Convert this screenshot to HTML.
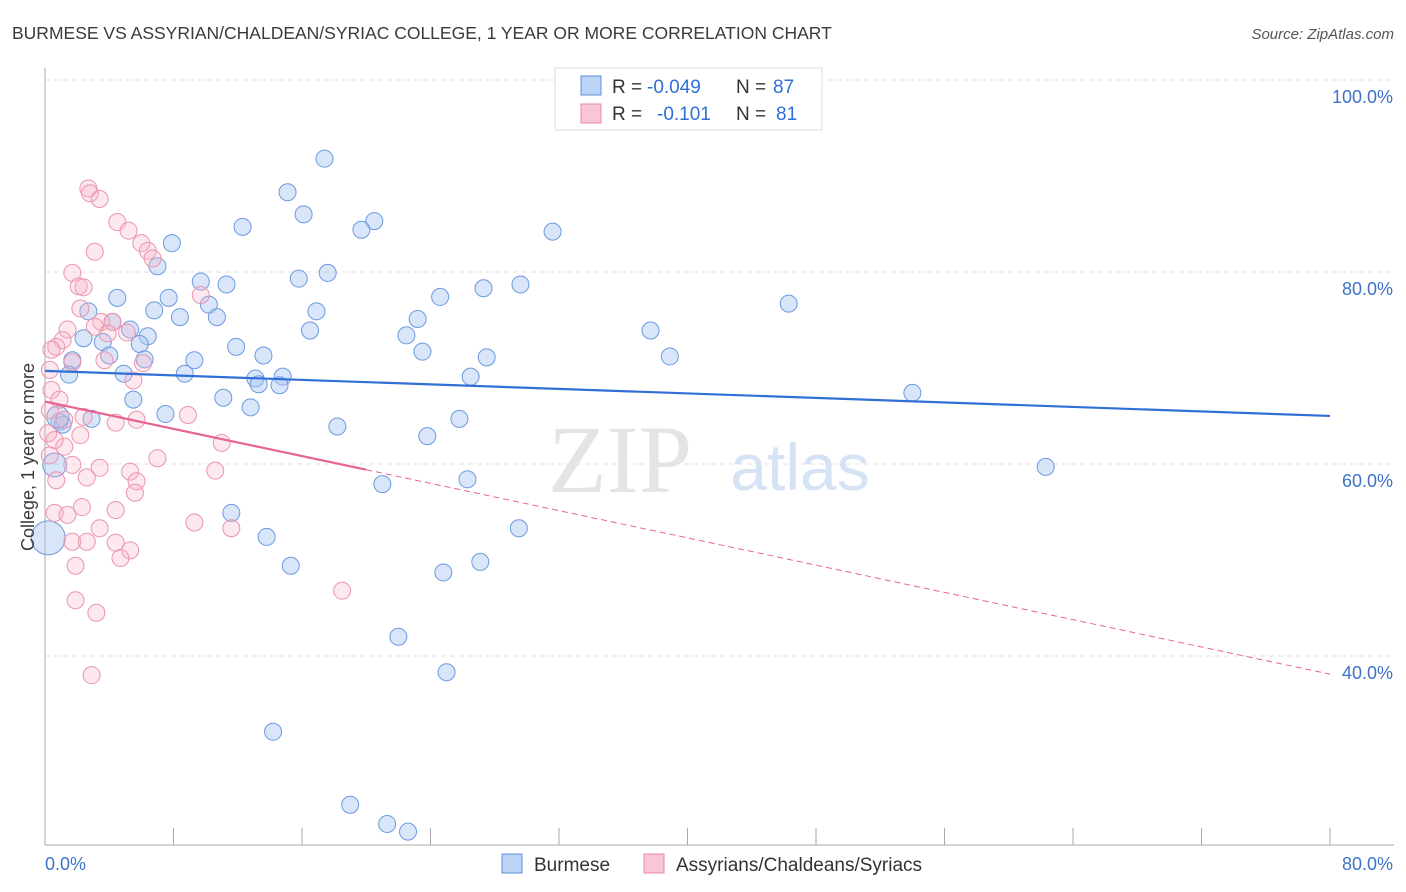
<!DOCTYPE html>
<html><head><meta charset="utf-8"><style>
body{margin:0;background:#fff;font-family:"Liberation Sans",sans-serif}
svg{display:block}
</style></head><body>
<svg id="chart" width="1406" height="892" xmlns="http://www.w3.org/2000/svg">
<text x="12" y="39" font-size="17.5" fill="#3a3a3a">BURMESE VS ASSYRIAN/CHALDEAN/SYRIAC COLLEGE, 1 YEAR OR MORE CORRELATION CHART</text>
<text x="1394" y="39" font-size="15" fill="#555" font-style="italic" text-anchor="end">Source: ZipAtlas.com</text>
<text x="620" y="492" font-size="96" fill="#e4e4e4" font-family="Liberation Serif" text-anchor="middle">ZIP</text>
<text x="800" y="490" font-size="66" fill="#d5e3f5" text-anchor="middle">atlas</text>
<g id="grid"></g>
<g id="axes"></g>
<g id="pts"></g>
<g id="trend"></g>
<text transform="translate(34,457) rotate(-90)" font-size="18" fill="#3a3a3a" text-anchor="middle">College, 1 year or more</text>
<g>
<rect x="555" y="68" width="267" height="62" fill="#fff" stroke="#ddd"/>
<rect x="581" y="76" width="20" height="19" fill="#bcd4f5" stroke="#5b8fdc"/>
<rect x="581" y="104" width="20" height="19" fill="#f8c6d4" stroke="#e88aa5"/>
<text x="612" y="93" font-size="19" fill="#333">R =</text>
<text x="647" y="93" font-size="19" fill="#2f6fd6">-0.049</text>
<text x="736" y="93" font-size="19" fill="#333">N =</text>
<text x="773" y="93" font-size="19" fill="#2f6fd6">87</text>
<text x="612" y="120" font-size="19" fill="#333">R =</text>
<text x="657" y="120" font-size="19" fill="#2f6fd6">-0.101</text>
<text x="736" y="120" font-size="19" fill="#333">N =</text>
<text x="776" y="120" font-size="19" fill="#2f6fd6">81</text>
</g>
<g>
<rect x="502" y="854" width="20" height="19" fill="#bcd4f5" stroke="#5b8fdc"/>
<text x="534" y="871" font-size="19" fill="#333">Burmese</text>
<rect x="644" y="854" width="20" height="19" fill="#f8c6d4" stroke="#e88aa5"/>
<text x="676" y="871" font-size="19" fill="#333">Assyrians/Chaldeans/Syriacs</text>
</g>
</svg>
<script>
const blueX=[32.3,17.4,15.1,16.1,20.5,19.7,12.3,31.6,7.9,7.0,17.6,15.8,9.7,11.3,29.6,27.3,4.5,7.7,24.6,10.2,6.8,46.3,16.9,2.7,8.4,10.7,23.2,4.2,5.3,6.4,16.5,37.7,2.4,3.6,5.9,22.5,11.9,23.5,13.6,27.5,38.9,4.0,6.2,9.3,1.7,4.9,8.7,1.5,26.5,13.1,14.8,13.3,14.6,54.0,5.5,11.1,12.8,7.5,2.9,25.8,0.9,18.2,23.8,62.3,0.6,21.0,26.3,11.6,29.5,13.8,0.2,15.3,24.8,27.1,22.0,25.0,14.2,19.0,21.3,22.6,1.1,0.8];
const blueY=[97.5,91.7,88.2,85.9,85.2,84.3,84.6,84.1,82.9,80.5,79.8,79.2,78.9,78.6,78.6,78.2,77.2,77.2,77.3,76.5,75.9,76.6,75.8,75.8,75.2,75.2,75.0,74.7,73.9,73.2,73.8,73.8,73.0,72.6,72.4,73.3,72.1,71.6,71.2,71.0,71.1,71.2,70.8,70.7,70.7,69.3,69.3,69.2,69.0,68.8,69.0,68.2,68.1,67.3,66.6,66.8,65.8,65.1,64.6,64.6,64.3,63.8,62.8,59.6,59.8,57.8,58.3,54.8,53.2,52.3,52.2,49.3,48.6,49.7,41.9,38.2,32.0,24.4,22.4,21.6,64.0,64.8];
const blueSize=[1,1,1,1,1,1,1,1,1,1,1,1,1,1,1,1,1,1,1,1,1,1,1,1,1,1,1,1,1,1,1,1,1,1,1,1,1,1,1,1,1,1,1,1,1,1,1,1,1,1,1,1,1,1,1,1,1,1,1,1,1,1,1,1,1.4,1,1,1,1,1,2.0,1,1,1,1,1,1,1,1,1,1,1.3];
const pinkX=[2.7,2.8,3.4,4.5,5.2,6.0,6.4,6.7,3.1,1.7,2.1,2.4,2.2,9.7,3.5,4.2,3.9,5.1,3.1,1.1,0.7,1.7,0.3,5.5,6.1,0.4,2.4,4.4,5.7,8.9,0.2,2.2,1.2,7.0,11.0,10.6,3.4,1.7,0.7,2.6,5.3,5.7,5.6,0.6,1.4,2.3,4.4,3.4,1.7,2.6,4.4,5.3,4.7,1.9,9.3,11.6,18.5,1.9,3.2,2.9,0.4,0.9,0.3,0.6,0.3,1.2,1.4,3.7];
const pinkY=[88.6,88.1,87.5,85.1,84.2,82.9,82.1,81.3,82.0,79.8,78.4,78.3,76.1,77.5,74.7,74.7,73.5,73.6,74.2,72.8,72.1,70.5,69.7,68.6,70.4,67.6,64.8,64.2,64.5,65.0,63.1,62.9,61.7,60.5,62.1,59.2,59.5,59.8,58.2,58.5,59.1,58.1,56.9,54.8,54.6,55.4,55.1,53.2,51.8,51.8,51.7,50.9,50.1,49.3,53.8,53.2,46.7,45.7,44.4,37.9,71.8,66.6,65.5,62.4,60.8,64.5,73.9,70.7];
const blueTrendX=[0,80], blueTrendY=[69.6,64.9];
const pinkTrendX=[0,20,80], pinkTrendY=[66.4,59.3,38.0];
const yTicks=[100,80,60,40];
const xTickVals=[0,8,16,24,32,40,48,56,64,72,80];

const X=v=>45+v*1285/80, Y=v=>79+(100-v)*9.6;
const NS='http://www.w3.org/2000/svg';
function mk(tag,attrs,parent){const e=document.createElementNS(NS,tag);for(const k in attrs)e.setAttribute(k,attrs[k]);document.getElementById(parent).appendChild(e);return e;}
yTicks.forEach(t=>{
 const l=mk('line',{x1:45,x2:1394,y1:Y(t)+1,y2:Y(t)+1,stroke:'#e2e2e2','stroke-dasharray':'5,4'},'grid');
 
 
 const tx=mk('text',{x:1393,y:Y(t)+24,'font-size':18,fill:'#3d73c9','text-anchor':'end'},'grid');
 tx.textContent=t.toFixed(1)+'%';
 
 
});
const ax=mk('line',{x1:45,x2:45,y1:68,y2:845,stroke:'#aaa'},'axes');


const bx=mk('line',{x1:45,x2:1394,y1:845,y2:845,stroke:'#aaa'},'axes');


xTickVals.forEach(t=>{
 const l=mk('line',{x1:X(t),x2:X(t),y1:828,y2:845,stroke:'#aaa'},'axes');
 
 
});
[[0,45,'start'],[80,1393,'end']].forEach(([v,x,a])=>{
 const t=mk('text',{x:x,y:870,'font-size':18,fill:'#3d73c9','text-anchor':a},'axes');
 t.textContent=v.toFixed(1)+'%';
 
 
});
blueX.forEach((v,i)=>{
 const c=mk('circle',{cx:X(v),cy:Y(blueY[i]),r:8.5*(blueSize[i]||1),fill:'rgba(170,200,242,0.45)',stroke:'#6b9ae0','stroke-width':1},'pts');
 
 
});
pinkX.forEach((v,i)=>{
 const c=mk('circle',{cx:X(v),cy:Y(pinkY[i]),r:8.5,fill:'rgba(246,180,200,0.3)',stroke:'#eb95ad','stroke-width':1},'pts');
 
 
});
const bl=mk('line',{x1:X(blueTrendX[0]),y1:Y(blueTrendY[0]),x2:X(blueTrendX[1]),y2:Y(blueTrendY[1]),stroke:'#2f6fd6','stroke-width':2.2},'trend');


const pl=mk('line',{x1:X(pinkTrendX[0]),y1:Y(pinkTrendY[0]),x2:X(pinkTrendX[1]),y2:Y(pinkTrendY[1]),stroke:'#e8648f','stroke-width':2.2},'trend');


const pd=mk('line',{x1:X(pinkTrendX[1]),y1:Y(pinkTrendY[1]),x2:X(pinkTrendX[2]),y2:Y(pinkTrendY[2]),stroke:'#e8648f','stroke-width':1,'stroke-dasharray':'6,4'},'trend');


</script>
</body></html>
